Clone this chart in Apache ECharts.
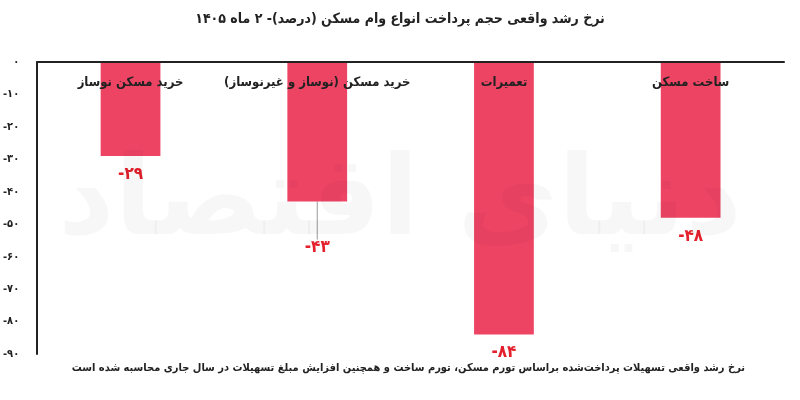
<!DOCTYPE html>
<html>
<head>
<meta charset="utf-8">
<script src="https://cdn.jsdelivr.net/npm/echarts@6/dist/echarts.min.js"></script>
<style>html,body{margin:0;padding:0;background:#fff}#c{width:800px;height:400px}</style>
</head>
<body>
<div id="c"></div>
<script>
const titleText = 'نرخ رشد واقعی حجم پرداخت انواع وام مسکن (درصد)- ۲ ماه ۱۴۰۵';
const footnoteText = 'نرخ رشد واقعی تسهیلات پرداخت‌شده براساس تورم مسکن، تورم ساخت و همچنین افزایش مبلغ تسهیلات در سال جاری محاسبه شده است';
const watermarkText = 'دنیای اقتصاد';
const categories = ['خرید مسکن نوساز', 'خرید مسکن (نوساز و غیرنوساز)', 'تعمیرات', 'ساخت مسکن'];
const values = [-29, -43, -84, -48];
const yMin = -90, yMax = 0, yStep = 10;

const RLE = '\u202B', PDF = '\u202C';
const rtl = s => RLE + s + PDF;
const faDigits = '۰۱۲۳۴۵۶۷۸۹';
const toFa = n => String(n).replace(/\d/g, d => faDigits[d]);
const FONT = '"DejaVu Sans Condensed", "DejaVu Sans"';

const chart = echarts.init(document.getElementById('c'), null, {renderer: 'canvas'});
chart.setOption({
  animation: false,
  backgroundColor: '#fff',
  textStyle: {fontFamily: FONT},
  title: {
    text: rtl(titleText), left: 'center', top: 7,
    textStyle: {fontFamily: FONT, fontSize: 14, fontWeight: 'bold', color: '#222'}
  },
  grid: {left: 37, right: 16, top: 62, bottom: 46, containLabel: false},
  xAxis: {
    type: 'category', position: 'top', data: categories,
    axisLine: {show: true, lineStyle: {color: '#222', width: 2}},
    axisTick: {show: false},
    axisLabel: {
      inside: true, margin: 14, interval: 0,
      formatter: v => rtl(v),
      fontFamily: FONT, fontSize: 13, fontWeight: 'bold', color: '#222',
      verticalAlign: 'top'
    },
    z: 10
  },
  yAxis: {
    type: 'value', min: yMin, max: yMax, interval: yStep,
    axisLine: {show: true, lineStyle: {color: '#222', width: 2}},
    axisTick: {show: false},
    splitLine: {show: false},
    axisLabel: {
      margin: 18, formatter: v => (v < 0 ? '-' : '') + toFa(Math.abs(v)),
      fontFamily: FONT, fontSize: 11, fontWeight: 'bold', color: '#222'
    }
  },
  graphic: [{
    type: 'text', left: 'center', top: 150, z: 100, silent: true,
    style: {text: rtl(watermarkText), font: 'bold 110px "DejaVu Sans"', fill: 'rgba(0,0,0,0.03)'}
  }, {
    type: 'text', right: 55, top: 363,
    style: {text: rtl(footnoteText), font: 'bold 11px "DejaVu Sans Condensed", "DejaVu Sans"', fill: '#222', align: 'right'}
  }],
  series: [{
    type: 'bar', barWidth: '32%',
    data: values.map((v, i) => i === 1
      ? {value: v, labelLine: {show: true, lineStyle: {color: '#999', width: 1}}}
      : {value: v, labelLine: {show: false}}),
    itemStyle: {color: '#ee4464'},
    label: {
      show: true, position: 'bottom', distance: 10,
      formatter: p => '-' + toFa(Math.abs(p.value)),
      fontFamily: FONT, fontSize: 17, fontWeight: 'bold', color: '#e3202c'
    },
    labelLine: {show: false},
    labelLayout: p => p.dataIndex === 1 ? {dy: 28} : {}
  }]
});
</script>
</body>
</html>
